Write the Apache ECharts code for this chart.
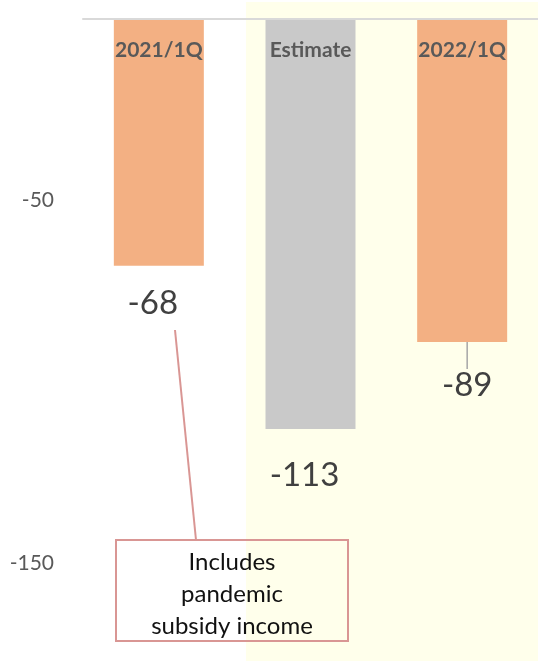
<!DOCTYPE html>
<html>
<head>
<meta charset="utf-8">
<script src="https://cdn.jsdelivr.net/npm/echarts@6/dist/echarts.min.js"></script>
<style>
html,body{margin:0;padding:0;background:#fff;}
#chart{width:538px;height:661px;}
</style>
</head>
<body>
<div id="chart"></div>
<script>
const categories = ['2021/1Q', 'Estimate', '2022/1Q'];
const values = [-68, -113, -89];
const barColors = ['#F3B083', '#C9C9C9', '#F3B083'];
const tickLabels = ['-50', '-150'];
const annotationText = 'Includes\npandemic\nsubsidy income';

const FONT = 'Lato';
const chart = echarts.init(document.getElementById('chart'), null, {renderer: 'canvas'});

const labelShift = [{dx: -6, dy: 21}, {dx: -6, dy: 30}, {dx: 5, dy: 27}];

const option = {
  animation: false,
  backgroundColor: '#ffffff',
  graphic: [
    {type: 'rect', z: -10, left: 246, top: 2, shape: {width: 292, height: 659}, style: {fill: '#FFFFEB'}},
    {type: 'line', z: 10, shape: {x1: 175, y1: 330, x2: 196, y2: 540}, style: {stroke: '#D99694', lineWidth: 2}},
    {type: 'rect', z: 10, shape: {x: 116, y: 540, width: 232, height: 101},
      style: {fill: 'transparent', stroke: '#D99694', lineWidth: 2}},
    {type: 'text', z: 11, x: 232, y: 546,
      style: {text: annotationText, fontFamily: FONT, fontSize: 24, lineHeight: 32, fill: '#111', align: 'center', verticalAlign: 'top'}}
  ],
  grid: {left: 83, right: 0, top: 19, bottom: 7, containLabel: false},
  xAxis: {
    type: 'category',
    position: 'top',
    z: 5,
    data: categories,
    axisLine: {show: true, lineStyle: {color: '#D9D9D9', width: 2}},
    axisTick: {show: false},
    axisLabel: {inside: true, margin: 21, color: '#595959', fontWeight: 'bold', fontFamily: FONT, fontSize: 21}
  },
  yAxis: {
    type: 'value',
    min: -175, max: 0, interval: 25,
    splitLine: {show: false},
    axisLine: {show: false},
    axisTick: {show: false},
    axisLabel: {
      margin: 29, color: '#595959', fontFamily: FONT, fontSize: 21,
      formatter: v => tickLabels.includes(String(v)) ? String(v) : ''
    }
  },
  series: [{
    type: 'bar',
    barWidth: 90,
    data: values.map((v, i) => ({
      value: v,
      itemStyle: {color: barColors[i]},
      labelLine: {show: i === 2, lineStyle: {color: '#A6A6A6', width: 1.5}}
    })),
    label: {show: true, position: 'bottom', distance: 0, color: '#404040', fontFamily: FONT, fontSize: 33},
    labelLayout: p => ({dx: labelShift[p.dataIndex].dx, dy: labelShift[p.dataIndex].dy})
  }]
};
chart.setOption(option);
</script>
</body>
</html>
